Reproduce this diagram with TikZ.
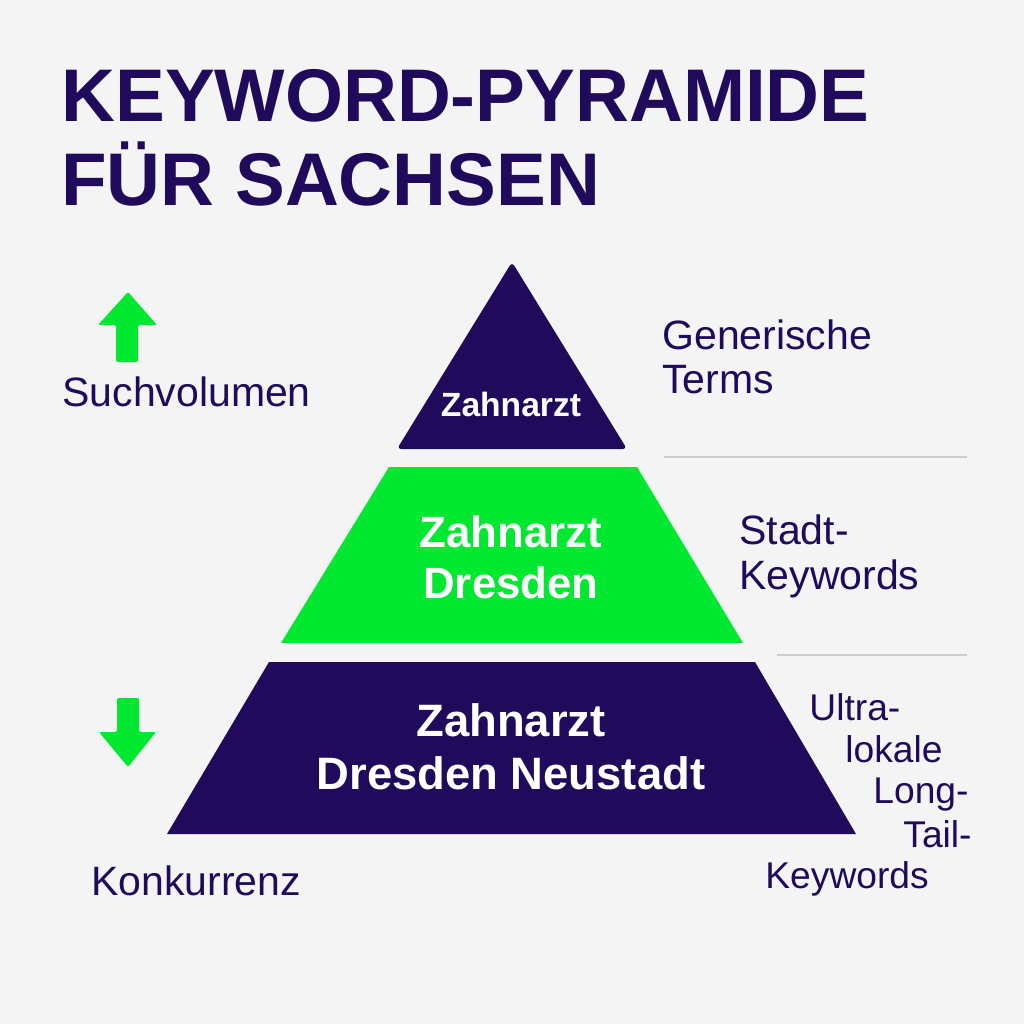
\documentclass[tikz,border=0pt]{standalone}
\usepackage{fontspec}
\setmainfont{Liberation Sans}
\definecolor{ink}{RGB}{31,10,92}
\definecolor{lime}{RGB}{0,232,48}
\definecolor{paper}{RGB}{244,244,244}
\definecolor{hair}{RGB}{204,204,204}
\tikzset{
  title/.style={anchor=base west, inner sep=0pt, text=ink, font=\bfseries\fontsize{37.3}{40}\selectfont},
  side/.style={anchor=base west, inner sep=0pt, text=ink, font=\fontsize{#1}{#1}\selectfont},
  side/.default=20.5,
  level/.style={anchor=base, inner sep=0pt, text=white, font=\bfseries\fontsize{#1}{#1}\selectfont},
  sep/.style={draw=hair, line width=1pt}
}
\begin{document}
\begin{tikzpicture}[x=0.5pt,y=-0.5pt]
				\fill[paper] (0,0) rectangle (1024,1024);
				\useasboundingbox (0,0) rectangle (1024,1024);
				
				% Titel
				\node[title] (t1) at (61,121) {KEYWORD-PYRAMIDE};
				\node[title] (t2) at (61,205) {FÜR SACHSEN};
				
				% Pyramide
				\fill[ink, rounded corners=2pt] (512,262) -- (627,449) -- (397,449) -- cycle;
				\fill[lime] (389,467) -- (637,467) -- (743,643) -- (281,643) -- cycle;
				\fill[ink] (269,662) -- (755,662) -- (856,834) -- (167,834) -- cycle;
				
				\node[level=16.8] (z1) at (511,416) {Zahnarzt};
				\node[level=21.9] (z2) at (511,547) {Zahnarzt};
				\node[level=21.9] (d2) at (511,598) {Dresden};
				\node[level=22.7] (z3) at (511,736) {Zahnarzt};
				\node[level=22.7] (d3) at (511,789) {Dresden Neustadt};
				
				% Trennlinien
				\draw[sep] (664,457) -- (967,457);
				\draw[sep] (777,655) -- (967,655);
				
				% Pfeile
				\fill[lime, rounded corners=1pt] (128,292) -- (157,325) -- (138,325) -- (138,362)
					-- (116,362) -- (116,325) -- (98,325) -- cycle;
				\fill[lime, rounded corners=1pt] (117,698) -- (139,698) -- (139,732) -- (156,732)
					-- (128,767) -- (99,732) -- (117,732) -- cycle;
				\node[side] (vol) at (62,406) {Suchvolumen};
				\node[side] (konk) at (91,895) {Konkurrenz};
				
				% Beschriftung rechts
				\node[side] (g1) at (662,349) {Generische};
				\node[side] (g2) at (662,393) {Terms};
				\node[side] (s1) at (739,544) {Stadt-};
				\node[side] (s2) at (739,589) {Keywords};
				\node[side=18.6] (u1) at (809,720) {Ultra-};
				\node[side=18.6] (u2) at (845,762) {lokale};
				\node[side=18.6] (u3) at (873,803) {Long-};
				\node[side=18.6] (u4) at (903,847) {Tail-};
				\node[side=18.6] (u5) at (765,888) {Keywords};
			\end{tikzpicture}
\end{document}
